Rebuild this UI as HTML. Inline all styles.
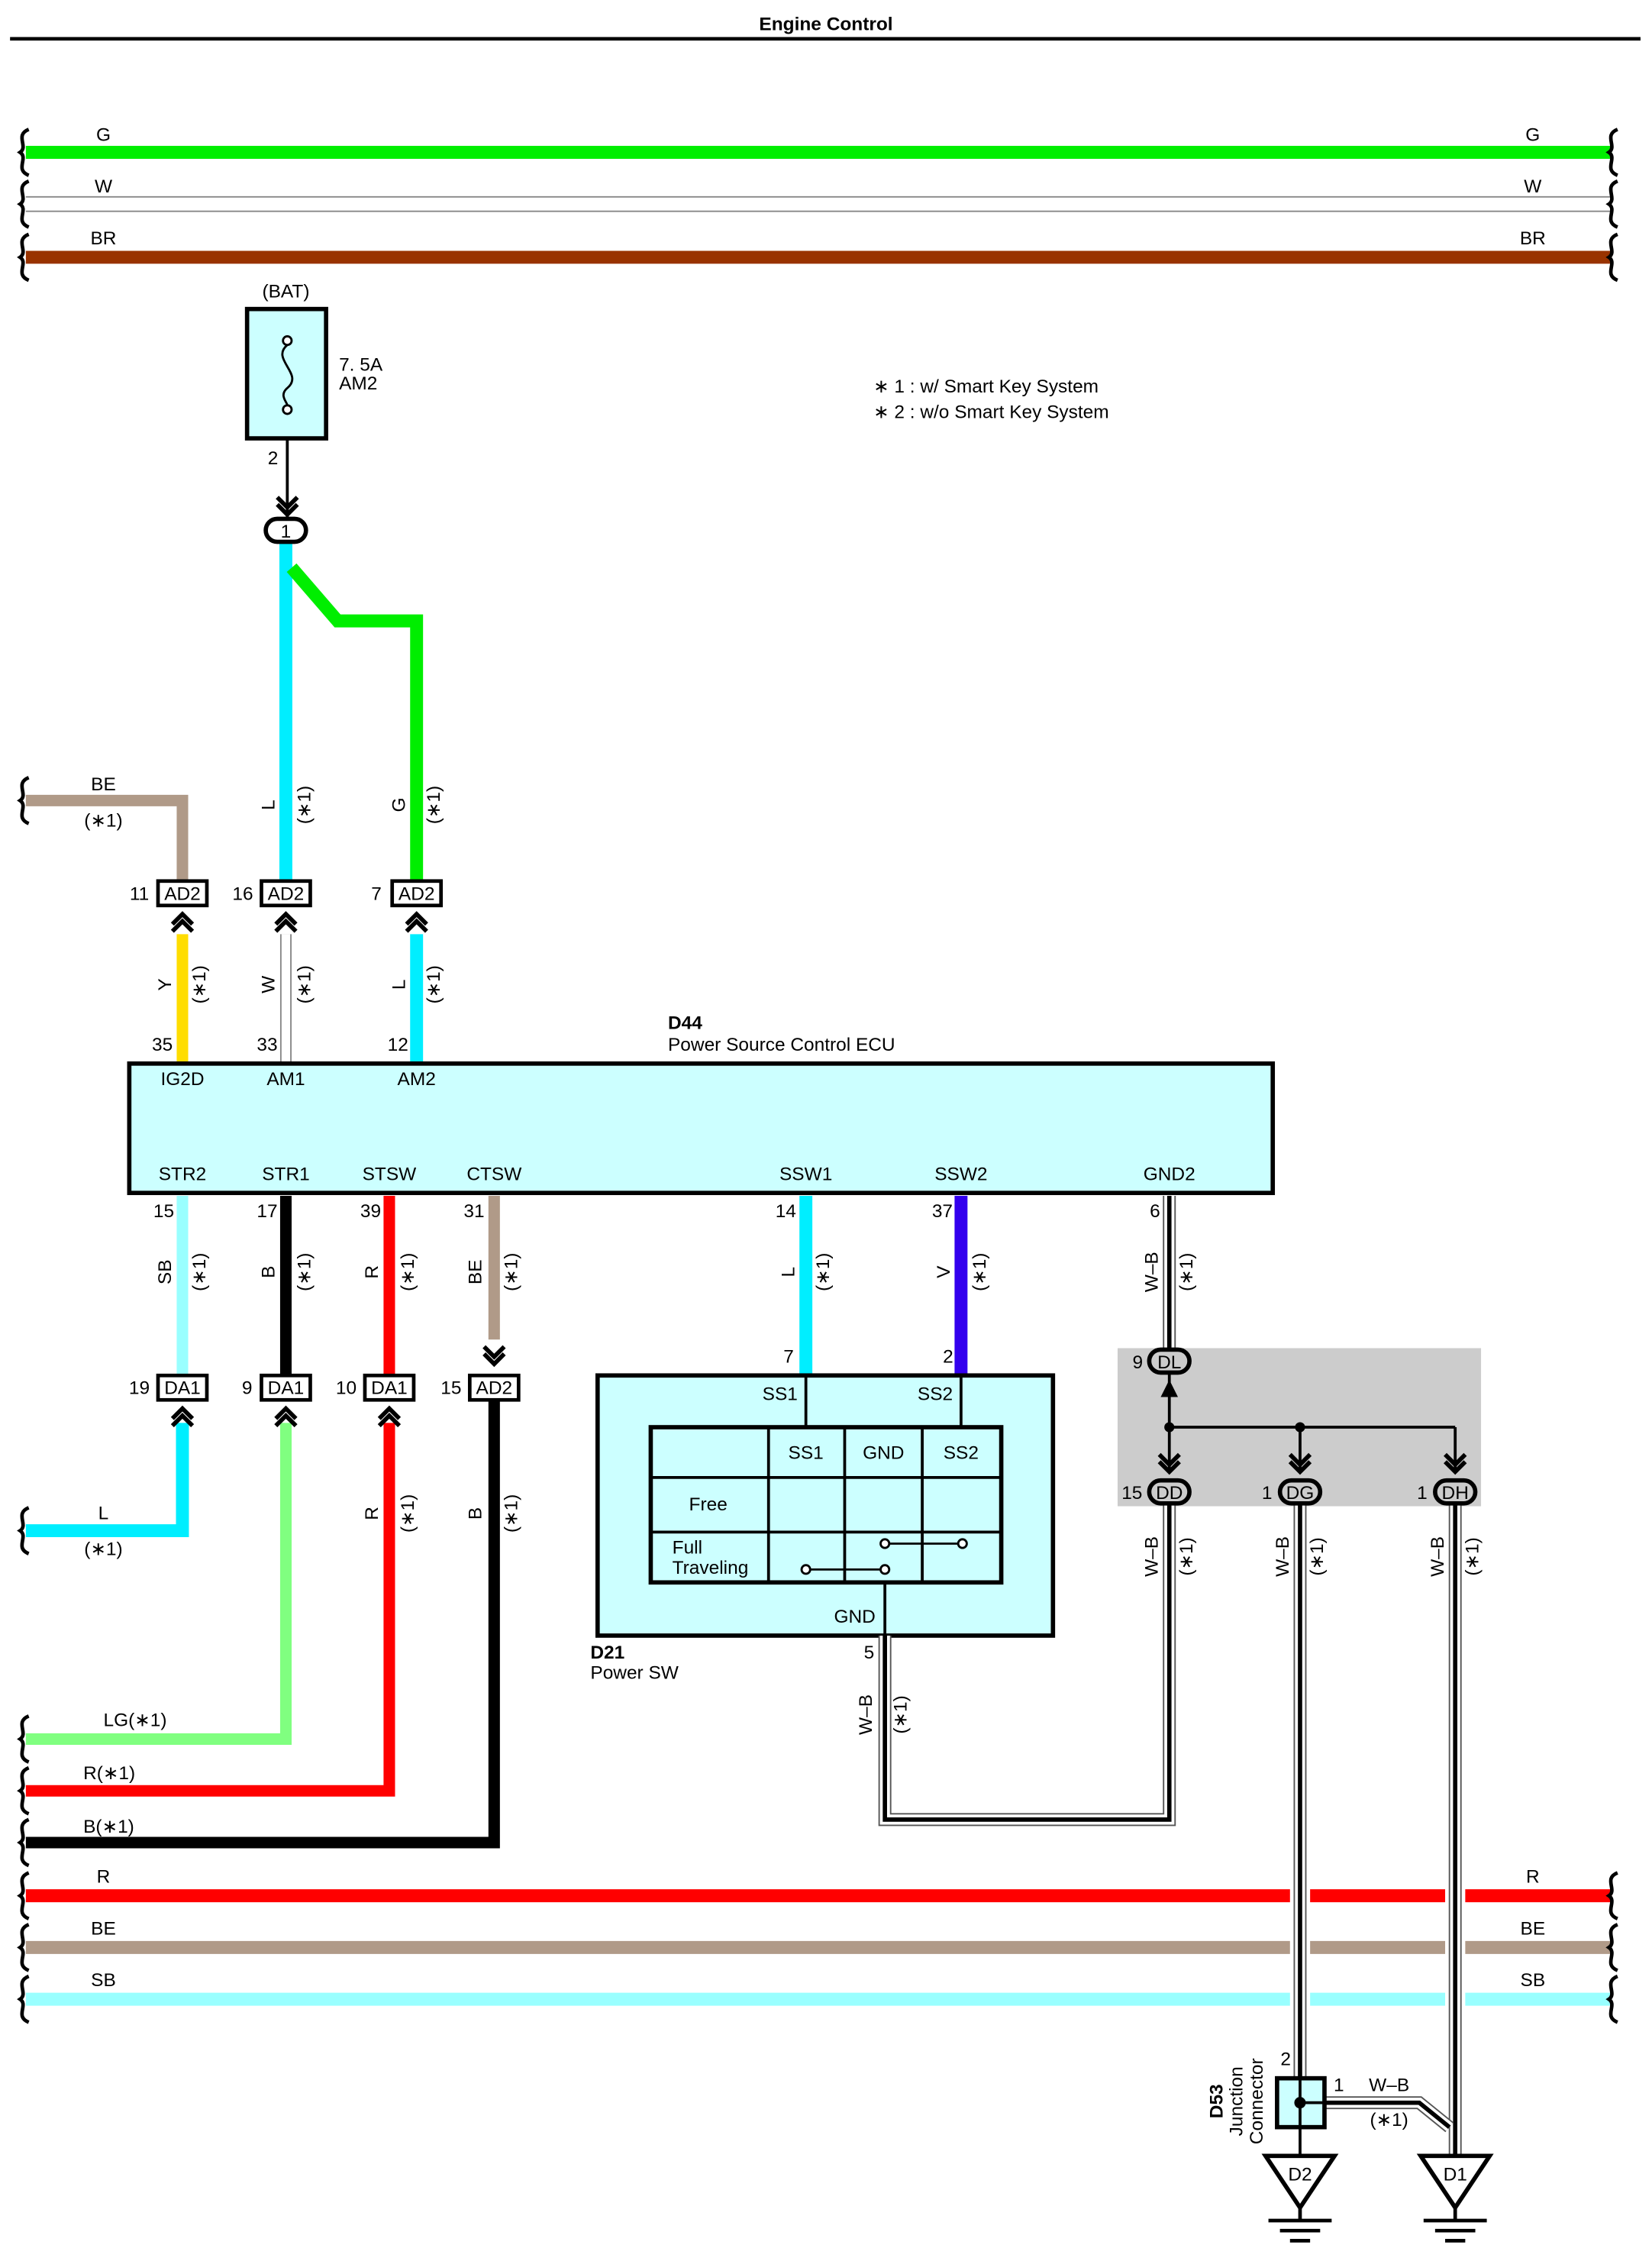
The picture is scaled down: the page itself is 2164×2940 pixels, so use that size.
<!DOCTYPE html>
<html><head><meta charset="utf-8"><style>
html,body{margin:0;padding:0;background:#fff}
svg{display:block}
text{font-family:"Liberation Sans",sans-serif;font-size:13px;fill:#000}
.b{font-weight:bold}
.m{text-anchor:middle}
</style></head><body>
<svg width="2164" height="2940" viewBox="0 0 1150 1562" preserveAspectRatio="none" xmlns="http://www.w3.org/2000/svg">
<defs>
<g id="chevU"><path d="M-7,6 L0,-1 L7,6 M-7,11 L0,4 L7,11" fill="none" stroke="#000" stroke-width="3"/></g>
<g id="chevD"><path d="M-7,-6 L0,1 L7,-6 M-7,-11 L0,-4 L7,-11" fill="none" stroke="#000" stroke-width="3"/></g>
<path id="brace" d="M22,-16 C12,-12 22,-4 16,0 C22,4 12,12 22,16" fill="none" stroke="#000" stroke-width="2.5"/>
</defs>
<rect width="1150" height="1562" fill="#fff"/>
<text x="575" y="21" class="b m" font-size="15">Engine Control</text>
<line x1="7" y1="27" x2="1142" y2="27" stroke="#000" stroke-width="2.5"/>

<!-- top buses -->
<line x1="18" y1="106" x2="1122" y2="106" stroke="#00ee00" stroke-width="9"/>
<line x1="18" y1="137" x2="1122" y2="137" stroke="#888" stroke-width="1"/>
<line x1="18" y1="147" x2="1122" y2="147" stroke="#888" stroke-width="1"/>
<line x1="18" y1="179" x2="1122" y2="179" stroke="#993300" stroke-width="9"/>
<text x="72" y="98" class="m">G</text><text x="1067" y="98" class="m">G</text>
<text x="72" y="134" class="m">W</text><text x="1067" y="134" class="m">W</text>
<text x="72" y="170" class="m">BR</text><text x="1067" y="170" class="m">BR</text>
<use href="#brace" x="-2" y="106"/><use href="#brace" x="-2" y="142"/><use href="#brace" x="-2" y="179"/>
<use href="#brace" x="1104" y="106"/><use href="#brace" x="1104" y="142"/><use href="#brace" x="1104" y="179"/>

<!-- notes -->
<text x="608" y="273">∗ 1 : w/ Smart Key System</text>
<text x="608" y="291">∗ 2 : w/o Smart Key System</text>

<!-- fuse -->
<text x="199" y="207" class="m">(BAT)</text>
<rect x="172" y="215" width="55" height="90" fill="#ccffff" stroke="#000" stroke-width="3"/>
<circle cx="200" cy="237" r="3" fill="#fff" stroke="#000" stroke-width="1.5"/>
<circle cx="200" cy="285" r="3" fill="#fff" stroke="#000" stroke-width="1.5"/>
<path d="M200,240 C188,250 212,260 200,270 C194,275 200,280 200,282" fill="none" stroke="#000" stroke-width="1.5"/>
<text x="236" y="258">7. 5A</text><text x="236" y="271">AM2</text>
<text x="190" y="323" class="m">2</text>
<line x1="200" y1="305" x2="200" y2="360" stroke="#000" stroke-width="2"/>
<use href="#chevD" x="200" y="357"/>
<!-- cyan and green up top -->
<line x1="199" y1="377" x2="199" y2="613" stroke="#00eeff" stroke-width="9"/>
<path d="M203,395 L235,432 L290,432 L290,613" fill="none" stroke="#00ee00" stroke-width="9"/>
<rect x="185" y="361" width="28" height="16" rx="8" fill="#fff" stroke="#000" stroke-width="3"/>
<text x="199" y="374" class="m" font-size="12">1</text>

<!-- BE left -->
<path d="M18,557 L127,557 L127,613" fill="none" stroke="#b09a88" stroke-width="8"/>
<use href="#brace" x="-2" y="557"/>
<text x="72" y="550" class="m">BE</text><text x="72" y="575" class="m">(∗1)</text>

<!-- rotated labels upper -->
<g transform="translate(191,560) rotate(-90)"><text class="m">L</text></g>
<g transform="translate(216,560) rotate(-90)"><text class="m">(∗1)</text></g>
<g transform="translate(282,560) rotate(-90)"><text class="m">G</text></g>
<g transform="translate(306,560) rotate(-90)"><text class="m">(∗1)</text></g>

<!-- wires between AD2 and ECU -->
<line x1="127" y1="650" x2="127" y2="740" stroke="#ffdd00" stroke-width="8"/>
<line x1="199" y1="650" x2="199" y2="740" stroke="#888" stroke-width="8"/>
<line x1="199" y1="650" x2="199" y2="740" stroke="#fff" stroke-width="6"/>
<line x1="290" y1="650" x2="290" y2="740" stroke="#00eeff" stroke-width="9"/>
<g transform="translate(119,685) rotate(-90)"><text class="m">Y</text></g>
<g transform="translate(143,685) rotate(-90)"><text class="m">(∗1)</text></g>
<g transform="translate(191,685) rotate(-90)"><text class="m">W</text></g>
<g transform="translate(216,685) rotate(-90)"><text class="m">(∗1)</text></g>
<g transform="translate(282,685) rotate(-90)"><text class="m">L</text></g>
<g transform="translate(306,685) rotate(-90)"><text class="m">(∗1)</text></g>
<!-- AD2 connectors -->
<g font-size="12">
<rect x="110" y="613" width="34" height="17" fill="#fff" stroke="#000" stroke-width="2.5"/><text x="127" y="626" class="m" font-size="12">AD2</text><text x="97" y="626" class="m" font-size="12">11</text>
<rect x="182" y="613" width="34" height="17" fill="#fff" stroke="#000" stroke-width="2.5"/><text x="199" y="626" class="m" font-size="12">AD2</text><text x="169" y="626" class="m" font-size="12">16</text>
<rect x="273" y="613" width="34" height="17" fill="#fff" stroke="#000" stroke-width="2.5"/><text x="290" y="626" class="m" font-size="12">AD2</text><text x="262" y="626" class="m" font-size="12">7</text>
</g>
<use href="#chevU" x="127" y="637"/><use href="#chevU" x="199" y="637"/><use href="#chevU" x="290" y="637"/>
<text x="113" y="731" class="m">35</text><text x="186" y="731" class="m">33</text><text x="277" y="731" class="m">12</text>

<!-- ECU -->
<text x="465" y="716" class="b">D44</text>
<text x="465" y="731">Power Source Control ECU</text>
<rect x="90" y="740" width="796" height="90" fill="#ccffff" stroke="#000" stroke-width="3"/>
<text x="127" y="755" class="m">IG2D</text><text x="199" y="755" class="m">AM1</text><text x="290" y="755" class="m">AM2</text>
<text x="127" y="821" class="m">STR2</text><text x="199" y="821" class="m">STR1</text><text x="271" y="821" class="m">STSW</text><text x="344" y="821" class="m">CTSW</text>
<text x="561" y="821" class="m">SSW1</text><text x="669" y="821" class="m">SSW2</text><text x="814" y="821" class="m">GND2</text>
<text x="114" y="847" class="m">15</text><text x="186" y="847" class="m">17</text><text x="258" y="847" class="m">39</text><text x="330" y="847" class="m">31</text>
<text x="547" y="847" class="m">14</text><text x="656" y="847" class="m">37</text><text x="804" y="847" class="m">6</text>

<!-- wires below ECU -->
<line x1="127" y1="832" x2="127" y2="957" stroke="#99ffff" stroke-width="8"/>
<line x1="199" y1="832" x2="199" y2="957" stroke="#000" stroke-width="8"/>
<line x1="271" y1="832" x2="271" y2="957" stroke="#ff0000" stroke-width="8"/>
<line x1="344" y1="832" x2="344" y2="932" stroke="#b09a88" stroke-width="8"/>
<use href="#chevD" x="344" y="948"/>
<line x1="561" y1="832" x2="561" y2="957" stroke="#00eeff" stroke-width="9"/>
<line x1="669" y1="832" x2="669" y2="957" stroke="#3300ee" stroke-width="9"/>
<g transform="translate(119,885) rotate(-90)"><text class="m">SB</text></g>
<g transform="translate(143,885) rotate(-90)"><text class="m">(∗1)</text></g>
<g transform="translate(191,885) rotate(-90)"><text class="m">B</text></g>
<g transform="translate(216,885) rotate(-90)"><text class="m">(∗1)</text></g>
<g transform="translate(263,885) rotate(-90)"><text class="m">R</text></g>
<g transform="translate(288,885) rotate(-90)"><text class="m">(∗1)</text></g>
<g transform="translate(335,885) rotate(-90)"><text class="m">BE</text></g>
<g transform="translate(360,885) rotate(-90)"><text class="m">(∗1)</text></g>
<g transform="translate(553,885) rotate(-90)"><text class="m">L</text></g>
<g transform="translate(577,885) rotate(-90)"><text class="m">(∗1)</text></g>
<g transform="translate(661,885) rotate(-90)"><text class="m">V</text></g>
<g transform="translate(686,885) rotate(-90)"><text class="m">(∗1)</text></g>
<g transform="translate(806,885) rotate(-90)"><text class="m">W–B</text></g>
<g transform="translate(830,885) rotate(-90)"><text class="m">(∗1)</text></g>

<!-- lower left wires -->
<path d="M127,990 L127,1065 L18,1065" fill="none" stroke="#00eeff" stroke-width="9"/>
<path d="M199,990 L199,1210 L18,1210" fill="none" stroke="#80ff80" stroke-width="8"/>
<path d="M271,990 L271,1246 L18,1246" fill="none" stroke="#ff0000" stroke-width="8"/>
<path d="M344,973 L344,1282 L18,1282" fill="none" stroke="#000" stroke-width="8"/>
<text x="72" y="1057" class="m">L</text><text x="72" y="1082" class="m">(∗1)</text>
<text x="72" y="1201">LG(∗1)</text>
<text x="58" y="1238">R(∗1)</text>
<text x="58" y="1275">B(∗1)</text>
<use href="#brace" x="-2" y="1065"/><use href="#brace" x="-2" y="1210"/><use href="#brace" x="-2" y="1246"/><use href="#brace" x="-2" y="1282"/>
<g transform="translate(263,1053) rotate(-90)"><text class="m">R</text></g>
<g transform="translate(288,1053) rotate(-90)"><text class="m">(∗1)</text></g>
<g transform="translate(335,1053) rotate(-90)"><text class="m">B</text></g>
<g transform="translate(360,1053) rotate(-90)"><text class="m">(∗1)</text></g>

<!-- DA1 connectors -->
<rect x="110" y="957" width="34" height="17" fill="#fff" stroke="#000" stroke-width="2.5"/><text x="127" y="970" class="m" font-size="12">DA1</text><text x="97" y="970" class="m" font-size="12">19</text>
<rect x="182" y="957" width="34" height="17" fill="#fff" stroke="#000" stroke-width="2.5"/><text x="199" y="970" class="m" font-size="12">DA1</text><text x="172" y="970" class="m" font-size="12">9</text>
<rect x="254" y="957" width="34" height="17" fill="#fff" stroke="#000" stroke-width="2.5"/><text x="271" y="970" class="m" font-size="12">DA1</text><text x="241" y="970" class="m" font-size="12">10</text>
<rect x="327" y="957" width="34" height="17" fill="#fff" stroke="#000" stroke-width="2.5"/><text x="344" y="970" class="m" font-size="12">AD2</text><text x="314" y="970" class="m" font-size="12">15</text>
<use href="#chevU" x="127" y="981"/><use href="#chevU" x="199" y="981"/><use href="#chevU" x="271" y="981"/>

<!-- Power SW -->
<rect x="416" y="957" width="317" height="181" fill="#ccffff" stroke="#000" stroke-width="3"/>
<text x="549" y="948" class="m">7</text><text x="660" y="948" class="m">2</text>
<text x="543" y="974" class="m">SS1</text><text x="651" y="974" class="m">SS2</text>
<line x1="561" y1="957" x2="561" y2="993" stroke="#000" stroke-width="2"/>
<line x1="669" y1="957" x2="669" y2="993" stroke="#000" stroke-width="2"/>
<rect x="453" y="993" width="244" height="108" fill="#ccffff" stroke="#000" stroke-width="3"/>
<path d="M535,993 V1101 M588,993 V1101 M642,993 V1101 M453,1028 H697 M453,1066 H697" stroke="#000" stroke-width="2"/>
<text x="561" y="1015" class="m">SS1</text><text x="615" y="1015" class="m">GND</text><text x="669" y="1015" class="m">SS2</text>
<text x="493" y="1051" class="m">Free</text>
<text x="468" y="1081">Full</text><text x="468" y="1095">Traveling</text>
<line x1="616" y1="1074" x2="670" y2="1074" stroke="#000" stroke-width="1.5"/>
<line x1="561" y1="1092" x2="616" y2="1092" stroke="#000" stroke-width="1.5"/>
<circle cx="616" cy="1074" r="3" fill="#fff" stroke="#000" stroke-width="1.5"/><circle cx="670" cy="1074" r="3" fill="#fff" stroke="#000" stroke-width="1.5"/>
<circle cx="561" cy="1092" r="3" fill="#fff" stroke="#000" stroke-width="1.5"/><circle cx="616" cy="1092" r="3" fill="#fff" stroke="#000" stroke-width="1.5"/>
<line x1="616" y1="1101" x2="616" y2="1138" stroke="#000" stroke-width="2"/>
<text x="595" y="1129" class="m">GND</text>
<text x="411" y="1154" class="b">D21</text><text x="411" y="1168">Power SW</text>
<text x="605" y="1154" class="m">5</text>

<!-- gray area -->
<rect x="778" y="938" width="253" height="110" fill="#cccccc"/>

<!-- W-B wires (double) -->
<g fill="none">
<path d="M814,832 L814,940" stroke="#555" stroke-width="9"/>
<path d="M814,832 L814,940" stroke="#fff" stroke-width="7"/>
<path d="M814,832 L814,940" stroke="#000" stroke-width="3"/>
<path d="M616,1138 L616,1266 L814,1266 L814,1046" stroke="#555" stroke-width="9"/>
<path d="M616,1138 L616,1266 L814,1266 L814,1046" stroke="#fff" stroke-width="7"/>
<path d="M616,1138 L616,1266 L814,1266 L814,1046" stroke="#000" stroke-width="3"/>
</g>
<g transform="translate(607,1193) rotate(-90)"><text class="m">W–B</text></g>
<g transform="translate(631,1193) rotate(-90)"><text class="m">(∗1)</text></g>

<!-- bottom buses -->
<line x1="18" y1="1319" x2="1122" y2="1319" stroke="#ff0000" stroke-width="9"/>
<line x1="18" y1="1355" x2="1122" y2="1355" stroke="#b09a88" stroke-width="9"/>
<line x1="18" y1="1391" x2="1122" y2="1391" stroke="#99ffff" stroke-width="9"/>
<text x="72" y="1310" class="m">R</text><text x="1067" y="1310" class="m">R</text>
<text x="72" y="1346" class="m">BE</text><text x="1067" y="1346" class="m">BE</text>
<text x="72" y="1382" class="m">SB</text><text x="1067" y="1382" class="m">SB</text>
<use href="#brace" x="-2" y="1319"/><use href="#brace" x="-2" y="1355"/><use href="#brace" x="-2" y="1391"/>
<use href="#brace" x="1104" y="1319"/><use href="#brace" x="1104" y="1355"/><use href="#brace" x="1104" y="1391"/>
<!-- gaps in bus for crossing wires -->
<rect x="898" y="1310" width="14" height="90" fill="#fff"/>
<rect x="1006" y="1310" width="14" height="90" fill="#fff"/>

<g fill="none">
<path d="M905,1046 L905,1446" stroke="#555" stroke-width="9"/>
<path d="M905,1046 L905,1446" stroke="#fff" stroke-width="7"/>
<path d="M905,1046 L905,1446" stroke="#000" stroke-width="3"/>
<path d="M1013,1046 L1013,1499" stroke="#555" stroke-width="9"/>
<path d="M1013,1046 L1013,1499" stroke="#fff" stroke-width="7"/>
<path d="M1013,1046 L1013,1499" stroke="#000" stroke-width="3"/>
<path d="M922,1463 L988,1463 L1009,1480" stroke="#555" stroke-width="9"/>
<path d="M922,1463 L988,1463 L1009,1480" stroke="#fff" stroke-width="7"/>
<path d="M922,1463 L988,1463 L1009,1480" stroke="#000" stroke-width="3"/>
</g>
<g transform="translate(806,1083) rotate(-90)"><text class="m">W–B</text></g>
<g transform="translate(830,1083) rotate(-90)"><text class="m">(∗1)</text></g>
<g transform="translate(897,1083) rotate(-90)"><text class="m">W–B</text></g>
<g transform="translate(921,1083) rotate(-90)"><text class="m">(∗1)</text></g>
<g transform="translate(1005,1083) rotate(-90)"><text class="m">W–B</text></g>
<g transform="translate(1029,1083) rotate(-90)"><text class="m">(∗1)</text></g>

<!-- junction inside gray -->
<line x1="814" y1="955" x2="814" y2="1025" stroke="#000" stroke-width="2"/>
<line x1="814" y1="993" x2="1013" y2="993" stroke="#000" stroke-width="2"/>
<line x1="905" y1="993" x2="905" y2="1025" stroke="#000" stroke-width="2"/>
<line x1="1013" y1="993" x2="1013" y2="1025" stroke="#000" stroke-width="2"/>
<circle cx="814" cy="993" r="3.5" fill="#000"/><circle cx="905" cy="993" r="3.5" fill="#000"/>
<path d="M808,972 L814,960 L820,972 Z" fill="#000"/>
<use href="#chevD" x="814" y="1023"/><use href="#chevD" x="905" y="1023"/><use href="#chevD" x="1013" y="1023"/>
<rect x="800" y="939" width="28" height="16" rx="8" fill="#ccc" stroke="#000" stroke-width="3"/><text x="814" y="952" class="m" font-size="12">DL</text><text x="792" y="952" class="m" font-size="12">9</text>
<rect x="800" y="1030" width="28" height="16" rx="8" fill="#ccc" stroke="#000" stroke-width="3"/><text x="814" y="1043" class="m" font-size="12">DD</text><text x="788" y="1043" class="m" font-size="12">15</text>
<rect x="891" y="1030" width="28" height="16" rx="8" fill="#ccc" stroke="#000" stroke-width="3"/><text x="905" y="1043" class="m" font-size="12">DG</text><text x="882" y="1043" class="m" font-size="12">1</text>
<rect x="999" y="1030" width="28" height="16" rx="8" fill="#ccc" stroke="#000" stroke-width="3"/><text x="1013" y="1043" class="m" font-size="12">DH</text><text x="990" y="1043" class="m" font-size="12">1</text>

<!-- D53 junction connector -->
<rect x="889" y="1446" width="33" height="34" fill="#ccffff" stroke="#000" stroke-width="3"/>
<line x1="905" y1="1446" x2="905" y2="1499" stroke="#000" stroke-width="2"/>
<line x1="905" y1="1463" x2="922" y2="1463" stroke="#000" stroke-width="2"/>
<circle cx="905" cy="1463" r="4" fill="#000"/>
<text x="895" y="1437" class="m">2</text><text x="932" y="1455" class="m">1</text>
<text x="967" y="1455" class="m">W–B</text><text x="967" y="1479" class="m">(∗1)</text>
<g transform="translate(851,1462) rotate(-90)"><text class="m b">D53</text></g>
<g transform="translate(865,1462) rotate(-90)"><text class="m">Junction</text></g>
<g transform="translate(879,1462) rotate(-90)"><text class="m">Connector</text></g>

<!-- grounds -->
<g stroke="#000" stroke-width="3" fill="#fff">
<path d="M881,1500 L929,1500 L905,1536 Z"/>
<path d="M989,1500 L1037,1500 L1013,1536 Z"/>
</g>
<text x="905" y="1517" class="m">D2</text><text x="1013" y="1517" class="m">D1</text>
<g stroke="#000" stroke-width="2.5">
<path d="M905,1536 V1545 M883,1545 H927 M891,1552 H919 M898,1559 H912"/>
<path d="M1013,1536 V1545 M991,1545 H1035 M999,1552 H1027 M1006,1559 H1020"/>
</g>
</svg>
</body></html>
